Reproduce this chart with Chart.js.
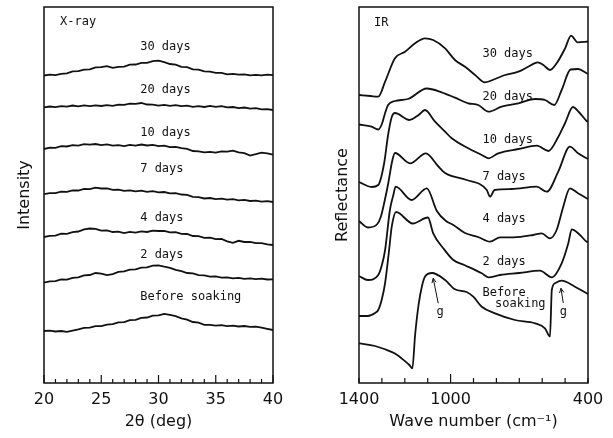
<!DOCTYPE html>
<html><head><meta charset="utf-8">
<script src="https://cdn.jsdelivr.net/npm/chart.js@4.4.0/dist/chart.umd.min.js"></script>
<style>
html,body{margin:0;padding:0;background:#fff;}
#wrap{position:relative;width:613px;height:438px;overflow:hidden;background:#fff;}
#c1{position:absolute;left:0;top:0;width:300px;height:438px;}
#c2{position:absolute;left:300px;top:0;width:313px;height:438px;}
</style></head><body>
<div id="wrap"><canvas id="c1" width="300" height="438"></canvas><canvas id="c2" width="313" height="438"></canvas></div>
<script>
// ---------- X-ray panel data (2θ in deg, intensity in arbitrary offset units) ----------
const xrdTwoTheta = [20,20.5,21,21.5,22,22.5,23,23.5,24,24.5,25,25.5,26,26.5,27,27.5,28,28.5,29,29.5,30,30.5,31,31.5,32,32.5,33,33.5,34,34.5,35,35.5,36,36.5,37,37.5,38,38.5,39,39.5,40];
const xrdTicks = [20,25,30,35,40];
const xrd30 = [307.5,308.3,307.9,309.2,309.6,311.6,311.9,313.4,313.6,315.6,315.8,316.9,315.2,316.1,316.4,318.4,318.5,320.2,320.1,321.8,322.3,320.9,319.0,318.4,316.2,315.9,313.6,313.4,311.6,311.4,310.2,310.1,308.7,309.2,308.3,308.7,307.7,308.2,307.6,308.3,307.8];
const xrd20 = [275.7,276.5,275.9,276.9,276.4,277.5,276.7,277.6,276.8,277.7,277.0,277.8,277.2,278.4,278.1,279.4,279.1,280.0,278.5,278.4,277.4,278.1,277.1,277.9,276.9,277.4,276.2,276.8,276.0,277.2,276.1,276.8,275.6,276.0,274.9,275.5,274.4,274.8,273.7,273.9,273.0];
const xrd10 = [234.0,235.3,235.2,236.8,236.5,237.8,237.4,238.9,238.3,239.0,237.8,238.6,237.3,237.9,236.9,238.1,237.4,238.5,237.5,238.2,236.9,237.3,235.9,236.1,234.9,234.1,232.0,231.6,230.6,231.2,230.3,231.6,231.4,232.4,230.6,229.8,227.4,228.8,230.4,229.6,228.3];
const xrd7 = [188.8,189.9,189.9,191.3,191.1,192.6,192.5,194.0,193.9,195.3,194.5,194.6,193.2,193.4,192.1,192.7,191.7,192.3,191.2,191.9,190.7,191.0,189.7,189.9,188.5,188.2,186.2,185.8,184.5,185.0,183.9,184.4,183.3,183.9,182.7,183.2,182.0,182.4,181.4,181.8,181.0];
const xrd4 = [146.0,147.2,147.3,149.3,149.2,150.8,151.5,153.7,154.5,154.1,152.4,152.5,151.0,151.3,149.9,151.1,150.4,151.6,151.0,152.3,152.0,152.1,150.6,150.9,149.2,149.0,147.0,146.9,145.2,145.4,143.8,144.0,141.7,140.2,142.2,141.0,141.1,139.8,139.9,138.6,138.0];
const xrd2 = [100.3,101.6,101.8,103.5,103.4,105.2,105.6,107.6,108.0,110.0,109.4,107.9,108.8,111.2,111.6,113.4,113.6,115.3,115.7,117.3,117.6,116.3,115.2,113.2,111.9,110.0,109.6,107.9,107.7,106.4,106.6,105.3,105.7,104.7,105.1,104.1,104.7,103.9,104.3,103.5,103.7];
const xrd0 = [52.0,52.4,51.5,52.0,51.1,52.3,53.6,55.2,55.3,56.9,56.9,58.4,58.8,60.7,60.8,62.8,63.2,65.1,65.5,67.4,67.6,69.2,68.1,66.8,64.6,63.4,61.0,60.3,58.2,58.2,57.3,57.9,56.8,57.3,56.5,57.0,56.1,56.3,55.4,54.2,53.0];
const xrdLabels = ['30 days','20 days','10 days','7 days','4 days','2 days','Before soaking'];

// ---------- IR panel data (wave number in cm-1, reflectance in arbitrary offset units) ----------
const irTicks = [1400,1000,400];
const ir30Wn = [1400,1350,1316,1286,1243,1199,1155,1112,1076,1024,981,937,893,850,806,762,704,661,620,595,566,537,500,474,445,400];
const ir30   = [288,287,286.3,301.3,324.7,331.3,339.7,344.7,343,334.7,323,316.3,308,300.7,304,308,311.3,316.3,320.7,318,313,319.7,334.7,347.3,340.7,341.5];
const ir20Wn = [1400,1345,1316,1300,1286,1273,1243,1186,1104,1039,981,923,879,835,777,704,631,588,547,515,476,443,406,400];
const ir20   = [258.5,256.3,253.5,259,270,278,282,284,294.5,290.7,285.3,279.7,278,271.3,276.3,279.7,284,283,278,293,313.5,314,309.7,309];
const ir10Wn = [1400,1345,1316,1290,1273,1257,1243,1180,1140,1112,1068,1024,995,923,864,835,792,704,624,573,530,500,466,440,406,400];
const ir10   = [201,196,198,220,248,266,270,263,268,273,261.3,251.3,244.7,234.7,228,224.7,229.7,234,237.3,232,246,260,276,271,262,261];
const ir7Wn  = [1400,1361,1320,1305,1290,1272,1255,1243,1177,1108,1055,1024,930,842,828,808,733,624,580,530,479,445,406,400];
const ir7    = [162,155.5,159,166,180,200,222,230,219.7,229.7,217,210,203,193,186.3,193,194,196.3,191.3,211.3,236.3,230,224.7,224];
const ir4Wn  = [1400,1361,1316,1300,1286,1265,1250,1240,1170,1104,1060,1020,988,937,880,828,784,726,639,602,566,537,508,479,445,406,400];
const ir4    = [107,103,108,118,133,173,188,196.3,183,194.7,172,162,158,150,146,141.3,145.7,145.7,148,149.7,144.7,153,176.3,194.7,190,184.7,184];
const ir2Wn  = [1400,1361,1330,1316,1300,1286,1270,1257,1238,1165,1099,1076,1032,988,940,864,835,784,700,610,558,515,486,471,435,406,400];
const ir2    = [67,67,70,73,84,100,130,156.3,171,159.5,165.5,149.7,134.7,123,118,109.7,105.7,108,110,112.3,105.7,119.7,139.7,153.7,148,141.3,141];
const ir0Wn  = [1400,1330,1290,1243,1200,1180,1167,1155,1140,1125,1112,1081,1024,981,930,901,864,806,719,631,588,566,558,544,515,457,406,400];
const ir0    = [39.7,37,34,29.5,22,18,14.7,48,78,97,106.3,110,103,93.7,91,86.3,76.3,69.7,63,59.7,54.7,46.5,93,99.7,102.3,96.3,89.7,89];
const irLabels = ['30 days','20 days','10 days','7 days','4 days','2 days','Before','soaking'];

// ---------- annotation placement (in data units) ----------
const xrdLabelAt = [[28.4,336],[28.4,293],[28.4,250],[28.4,214],[28.4,165],[28.4,128],[28.4,86]];
const irLabelAt  = [[861,329],[861,285.7],[861,243],[861,206.3],[861,164],[861,120.7],[861,90.3],[806,78.7]];
const irArrows = [{from:[1054,79.7], to:[1076,104.7], text:[1046,71]}, {from:[508,80], to:[518,94.7], text:[508,71]}];

const INK = '#111111';
const lineStyle = {borderColor: INK, borderWidth: 1.8, pointRadius: 0, fill: false};
function pts(xs, ys){ return xs.map((x,i)=>({x:x, y:ys[i]})); }

function panelPlugin(cfg){
  return {
    id: cfg.id,
    afterDraw(chart){
      const ctx = chart.ctx, a = chart.chartArea, x = chart.scales.x, y = chart.scales.y;
      ctx.save();
      ctx.strokeStyle = INK; ctx.lineWidth = 1.5;
      ctx.strokeRect(a.left, a.top, a.right - a.left, a.bottom - a.top);
      ctx.lineWidth = 1.2;
      x.ticks.forEach(t => {
        const px = x.getPixelForValue(t.value);
        const len = cfg.tickLen(t.value);
        ctx.beginPath(); ctx.moveTo(px, a.bottom); ctx.lineTo(px, a.bottom - len); ctx.stroke();
      });
      ctx.fillStyle = INK;
      ctx.font = '12px "DejaVu Sans Mono"';
      ctx.textBaseline = 'middle'; ctx.textAlign = 'left';
      ctx.fillText(cfg.title, x.getPixelForValue(cfg.titleAt[0]), y.getPixelForValue(cfg.titleAt[1]));
      cfg.labels.forEach((txt, i) => {
        ctx.fillText(txt, x.getPixelForValue(cfg.labelAt[i][0]), y.getPixelForValue(cfg.labelAt[i][1]));
      });
      (cfg.arrows || []).forEach(ar => {
        const x0 = x.getPixelForValue(ar.from[0]), y0 = y.getPixelForValue(ar.from[1]);
        const x1 = x.getPixelForValue(ar.to[0]), y1 = y.getPixelForValue(ar.to[1]);
        ctx.lineWidth = 1;
        ctx.beginPath(); ctx.moveTo(x0, y0); ctx.lineTo(x1, y1); ctx.stroke();
        const ang = Math.atan2(y1 - y0, x1 - x0);
        ctx.beginPath();
        ctx.moveTo(x1 - 5*Math.cos(ang - 0.45), y1 - 5*Math.sin(ang - 0.45));
        ctx.lineTo(x1, y1);
        ctx.lineTo(x1 - 5*Math.cos(ang + 0.45), y1 - 5*Math.sin(ang + 0.45));
        ctx.stroke();
        ctx.textAlign = 'center';
        ctx.fillText('g', x.getPixelForValue(ar.text[0]), y.getPixelForValue(ar.text[1]));
        ctx.textAlign = 'left';
      });
      ctx.restore();
    }
  };
}

const axisFont = {family: 'DejaVu Sans', size: 16};

function makeOptions(o){
  return {
    responsive: false, animation: false, events: [],
    layout: {padding: {top: 7, right: o.padRight, bottom: 0, left: 0}},
    plugins: {legend: {display: false}, tooltip: {enabled: false}},
    elements: {line: {tension: o.tension, cubicInterpolationMode: o.cubic}},
    scales: {
      x: {
        type: 'linear', min: o.xmin, max: o.xmax, reverse: o.reverse,
        grid: {display: false, drawTicks: false}, border: {display: false},
        ticks: {stepSize: o.step, autoSkip: false, maxRotation: 0, minRotation: 0, padding: 7, color: INK, font: axisFont,
                callback: v => o.shown.includes(v) ? String(v) : ''},
        title: {display: true, text: o.xTitle, color: INK, font: axisFont, padding: {top: 0, bottom: 7}},
        afterFit: s => { s.height = 55; }
      },
      y: {
        min: 0, max: 376,
        ticks: {display: false}, grid: {display: false, drawTicks: false}, border: {display: false},
        title: {display: true, text: o.yTitle, color: INK, font: axisFont, padding: {top: o.yTitlePad, bottom: 0}},
        afterFit: s => { s.width = o.yWidth; }
      }
    }
  };
}

const xrdSeries = [xrd30, xrd20, xrd10, xrd7, xrd4, xrd2, xrd0];
new Chart(document.getElementById('c1'), {
  type: 'line',
  data: {datasets: xrdSeries.map((ys, i) => Object.assign({label: xrdLabels[i], data: pts(xrdTwoTheta, ys)}, lineStyle))},
  options: makeOptions({padRight: 27, tension: 0, cubic: 'default', xmin: 20, xmax: 40, reverse: false, step: 1,
    shown: xrdTicks, xTitle: '2θ (deg)', yTitle: 'Intensity', yTitlePad: 15, yWidth: 44}),
  plugins: [panelPlugin({id: 'xrdDecor', title: 'X-ray', titleAt: [21.4, 361],
    labels: xrdLabels, labelAt: xrdLabelAt,
    tickLen: v => (v % 5 === 0 ? 8 : 4)})]
});

const irSeries = [[ir30Wn, ir30], [ir20Wn, ir20], [ir10Wn, ir10], [ir7Wn, ir7], [ir4Wn, ir4], [ir2Wn, ir2], [ir0Wn, ir0]];
new Chart(document.getElementById('c2'), {
  type: 'line',
  data: {datasets: irSeries.map((s, i) => Object.assign({label: xrdLabels[i], data: pts(s[0], s[1])}, lineStyle))},
  options: makeOptions({padRight: 25, tension: 0.4, cubic: 'monotone', xmin: 400, xmax: 1400, reverse: true, step: 100,
    shown: irTicks, xTitle: 'Wave number (cm⁻¹)', yTitle: 'Reflectance', yTitlePad: 33, yWidth: 59}),
  plugins: [panelPlugin({id: 'irDecor', title: 'IR', titleAt: [1334, 359.7],
    labels: irLabels, labelAt: irLabelAt, arrows: irArrows,
    tickLen: v => (v === 1000 ? 9 : 5)})]
});
</script>
</body></html>
